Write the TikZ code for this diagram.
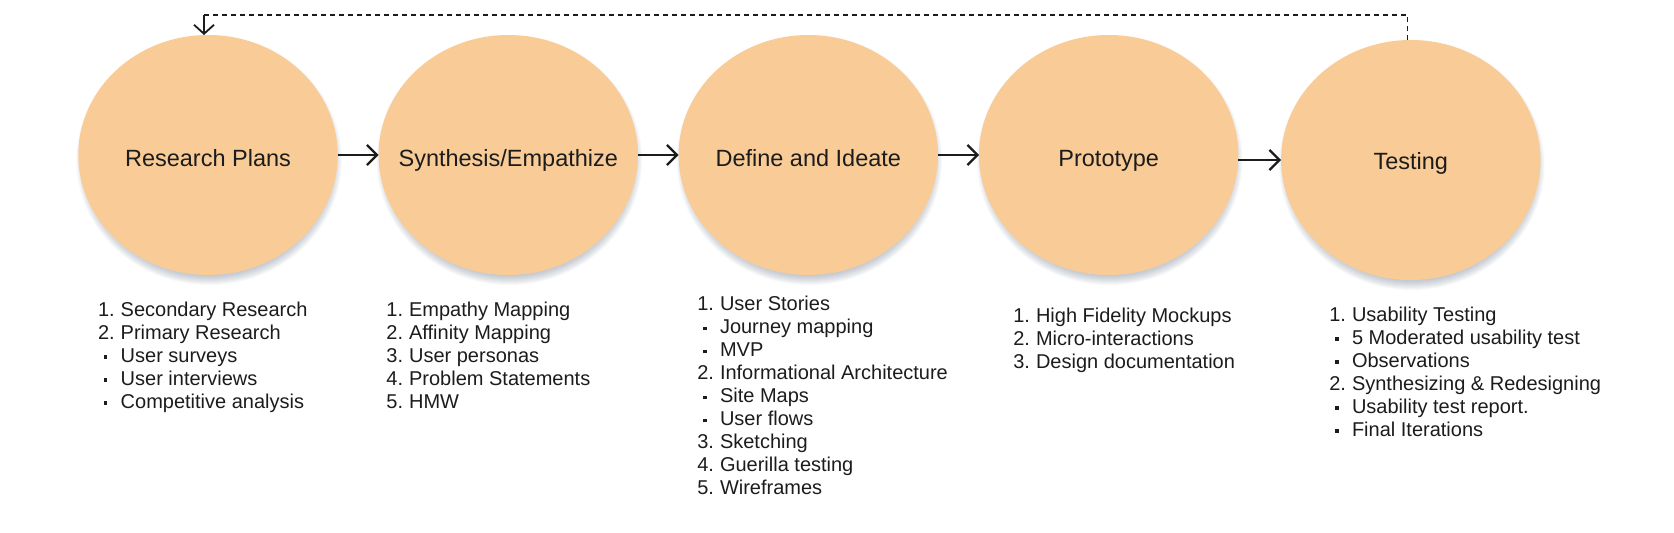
\documentclass[tikz,border=0pt]{standalone}
\usepackage{fontspec}
\setmainfont{Liberation Sans}
\usetikzlibrary{shapes.geometric,arrows.meta,backgrounds}
\definecolor{stagefill}{HTML}{F9CC97}
\definecolor{inkc}{HTML}{1C1C1C}
\definecolor{shadowc}{HTML}{6F7C8E}
\newcommand{\nli}[2]{\makebox[22.7pt][l]{#1}#2}
\newcommand{\bli}[1]{\makebox[22.7pt][l]{\hspace*{5.8pt}\rule[3.4pt]{3.6pt}{3.6pt}}#1}
\begin{document}
\begin{tikzpicture}[x=1pt,y=-1pt,
  stage/.style={ellipse, fill=stagefill, minimum width=259.4pt, minimum height=240pt,
    inner sep=0pt, outer sep=0pt},
  stagetext/.style={anchor=base, inner sep=0pt, outer sep=0pt,
    font=\fontsize{23.5}{28}\selectfont, text=inkc},
  flow/.style={draw=inkc, line width=2.3pt, -{Straight Barb[length=10pt,width=20pt]}},
  loopline/.style={draw=inkc, line width=1.1pt, dash pattern=on 5pt off 4pt},
  looparrow/.style={draw=inkc, line width=1.8pt, -{Straight Barb[length=9pt,width=20pt]}},
  steplist/.style={anchor=base west, inner sep=0pt, outer sep=0pt,
    font=\fontsize{20}{23}\selectfont, text=inkc},
  softshade/.style={fill=shadowc, opacity=0.05}
]
\useasboundingbox (0,0) rectangle (1674,533);

% stages
\node[stage] (c1) at (208,155)    {};
\node[stage] (c2) at (508.3,155)  {};
\node[stage] (c3) at (808.3,155)  {};
\node[stage] (c4) at (1108.7,155) {};
\node[stage] (c5) at (1410.8,160) {};

\node[stagetext] (t1) at ([yshift=-11.5pt]c1.center) {Research Plans};
\node[stagetext] (t2) at ([yshift=-11.5pt]c2.center) {Synthesis/Empathize};
\node[stagetext] (t3) at ([yshift=-11.5pt]c3.center) {Define and Ideate};
\node[stagetext] (t4) at ([yshift=-11.5pt]c4.center) {Prototype};
\node[stagetext] (t5) at ([yshift=-9.5pt]c5.center) {Testing};

% soft shadows behind the stages
\begin{pgfonlayer}{background}
  \foreach \c in {c1,c2,c3,c4,c5}{
    \foreach \k in {0,...,9}{
      \path[softshade] ([shift={(1,5)}]\c.center) ellipse ({(123.7+\k)*1pt} and {(116+\k)*1pt});
    }
  }
\end{pgfonlayer}

% flow arrows
\draw[flow] (c1.east) -- (c2.west);
\draw[flow] (c2.east) -- (c3.west);
\draw[flow] (c3.east) -- (c4.west);
\draw[flow] (c4.east |- c5.west) -- (c5.west);

% feedback loop
\coordinate (loopy) at (0,15);
\draw[loopline] ([xshift=-3pt]c5.north) -- ([xshift=-3pt]c5.north |- loopy) -- ([xshift=-4pt]c1.north |- loopy);
\draw[looparrow] ([xshift=-4pt]c1.north |- loopy) -- ([xshift=-4pt]c1.north);

% lists
\node[steplist] (l1) at (98,316) {\begin{tabular}[t]{@{}l@{}}
\nli{1.}{Secondary Research}\\
\nli{2.}{Primary Research}\\
\bli{User surveys}\\
\bli{User interviews}\\
\bli{Competitive analysis}
\end{tabular}};

\node[steplist] (l2) at (386.4,316) {\begin{tabular}[t]{@{}l@{}}
\nli{1.}{Empathy Mapping}\\
\nli{2.}{Affinity Mapping}\\
\nli{3.}{User personas}\\
\nli{4.}{Problem Statements}\\
\nli{5.}{HMW}
\end{tabular}};

\node[steplist] (l3) at (697.3,310.5) {\begin{tabular}[t]{@{}l@{}}
\nli{1.}{User Stories}\\
\bli{Journey mapping}\\
\bli{MVP}\\
\nli{2.}{Informational Architecture}\\
\bli{Site Maps}\\
\bli{User flows}\\
\nli{3.}{Sketching}\\
\nli{4.}{Guerilla testing}\\
\nli{5.}{Wireframes}
\end{tabular}};

\node[steplist] (l4) at (1013.3,322) {\begin{tabular}[t]{@{}l@{}}
\nli{1.}{High Fidelity Mockups}\\
\nli{2.}{Micro-interactions}\\
\nli{3.}{Design documentation}
\end{tabular}};

\node[steplist] (l5) at (1329.3,321) {\begin{tabular}[t]{@{}l@{}}
\nli{1.}{Usability Testing}\\
\bli{5 Moderated usability test}\\
\bli{Observations}\\
\nli{2.}{Synthesizing \& Redesigning}\\
\bli{Usability test report.}\\
\bli{Final Iterations}
\end{tabular}};
\end{tikzpicture}
\end{document}
